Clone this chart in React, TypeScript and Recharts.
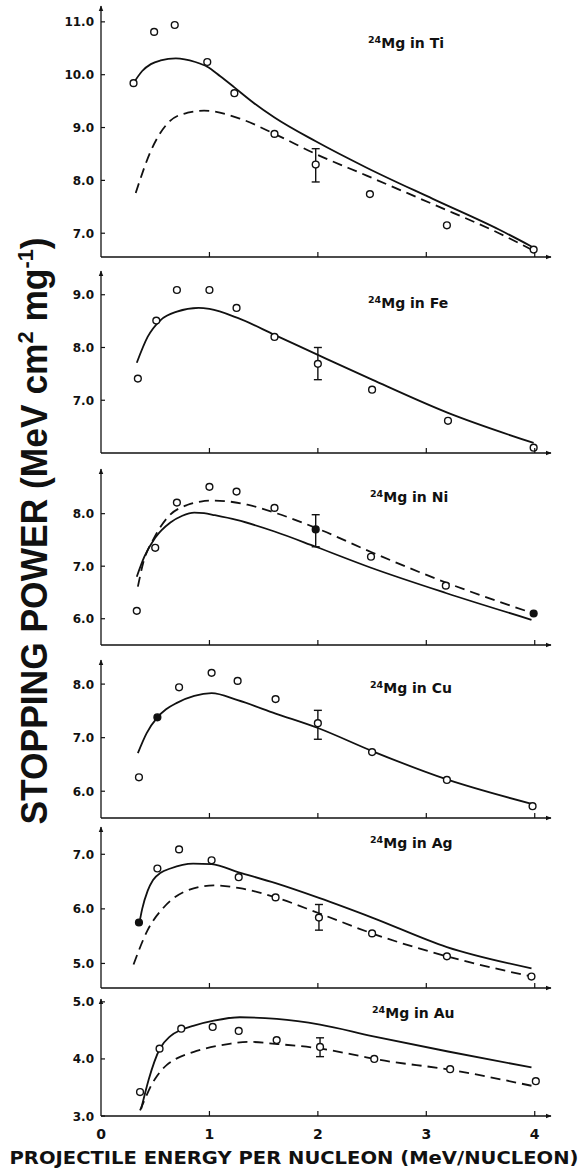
import { ComposedChart, Line, Scatter, XAxis, YAxis, ErrorBar } from 'recharts';

const X_TICKS = [0, 1, 2, 3, 4];
const TARGETS = ['Ti', 'Fe', 'Ni', 'Cu', 'Ag', 'Au'];

// 24Mg in Ti
const tiPtX = [0.3, 0.49, 0.68, 0.98, 1.23, 1.6, 1.98, 2.48, 3.19, 3.99];
const tiPtY = [9.84, 10.81, 10.94, 10.24, 9.65, 8.88, 8.3, 7.74, 7.15, 6.69];
const tiErr = [null, null, null, null, null, null, [0.33, 0.3], null, null, null];
const tiFilled: number[] = [];
const tiSolidX = [0.3, 0.38, 0.46, 0.55, 0.69, 0.87, 0.98, 1.1, 1.23, 1.4, 1.6, 1.98, 2.45, 3.06, 3.67, 3.97];
const tiSolidY = [9.84, 10.07, 10.2, 10.27, 10.31, 10.24, 10.15, 9.97, 9.76, 9.48, 9.19, 8.74, 8.24, 7.65, 7.07, 6.75];
const tiDashX = [0.32, 0.46, 0.64, 0.8, 0.95, 1.28, 1.6, 1.98, 2.45, 3.06, 3.67, 3.97];
const tiDashY = [7.76, 8.56, 9.13, 9.28, 9.32, 9.17, 8.88, 8.5, 8.09, 7.55, 7.0, 6.69];
const tiTicks = [7, 8, 9, 10, 11];

// 24Mg in Fe
const fePtX = [0.34, 0.51, 0.7, 1.0, 1.25, 1.6, 2.0, 2.5, 3.2, 3.99];
const fePtY = [7.41, 8.51, 9.09, 9.09, 8.75, 8.2, 7.69, 7.2, 6.61, 6.1];
const feErr = [null, null, null, null, null, null, [0.3, 0.31], null, null, null];
const feFilled: number[] = [];
const feSolidX = [0.33, 0.43, 0.55, 0.7, 0.9, 1.0, 1.26, 1.6, 2.0, 2.5, 3.2, 3.99];
const feSolidY = [7.71, 8.2, 8.52, 8.68, 8.75, 8.73, 8.56, 8.24, 7.86, 7.39, 6.76, 6.19];
const feTicks = [6, 7, 8, 9];

// 24Mg in Ni
const niPtX = [0.33, 0.5, 0.7, 1.0, 1.25, 1.6, 1.98, 2.49, 3.18, 3.99];
const niPtY = [6.15, 7.35, 8.21, 8.51, 8.42, 8.11, 7.7, 7.18, 6.63, 6.1];
const niErr = [null, null, null, null, null, null, [0.33, 0.28], null, null, null];
const niFilled = [6, 9];
const niSolidX = [0.33, 0.4, 0.5, 0.64, 0.75, 0.86, 0.95, 1.05, 1.25, 1.6, 1.98, 2.49, 3.18, 3.97];
const niSolidY = [6.8, 7.18, 7.54, 7.83, 7.96, 8.02, 8.01, 7.97, 7.88, 7.66, 7.37, 6.97, 6.49, 5.98];
const niDashX = [0.34, 0.39, 0.48, 0.61, 0.8, 0.92, 1.04, 1.35, 1.6, 1.98, 2.49, 3.18, 4.02];
const niDashY = [6.61, 7.07, 7.5, 7.92, 8.17, 8.23, 8.25, 8.17, 8.02, 7.73, 7.27, 6.69, 6.08];
const niTicks = [6, 7, 8];

// 24Mg in Cu
const cuPtX = [0.35, 0.52, 0.72, 1.02, 1.26, 1.61, 2.0, 2.5, 3.19, 3.98];
const cuPtY = [6.26, 7.38, 7.94, 8.21, 8.06, 7.72, 7.27, 6.73, 6.21, 5.72];
const cuErr = [null, null, null, null, null, null, [0.3, 0.24], null, null, null];
const cuFilled = [1];
const cuSolidX = [0.34, 0.42, 0.52, 0.6, 0.7, 0.86, 1.02, 1.26, 1.61, 2.0, 2.5, 3.19, 3.98];
const cuSolidY = [6.71, 7.08, 7.38, 7.53, 7.65, 7.78, 7.83, 7.7, 7.45, 7.18, 6.75, 6.22, 5.76];
const cuTicks = [6, 7, 8];

// 24Mg in Ag
const agPtX = [0.35, 0.52, 0.72, 1.02, 1.27, 1.61, 2.01, 2.5, 3.19, 3.97];
const agPtY = [5.75, 6.74, 7.09, 6.89, 6.58, 6.21, 5.84, 5.55, 5.13, 4.76];
const agErr = [null, null, null, null, null, null, [0.23, 0.24], null, null, null];
const agFilled = [0];
const agSolidX = [0.35, 0.38, 0.43, 0.48, 0.55, 0.64, 0.85, 1.02, 1.27, 1.61, 2.01, 2.5, 3.19, 3.97];
const agSolidY = [5.7, 6.0, 6.33, 6.53, 6.66, 6.74, 6.83, 6.82, 6.67, 6.47, 6.2, 5.84, 5.3, 4.91];
const agDashX = [0.3, 0.43, 0.58, 0.8, 1.04, 1.28, 1.61, 2.01, 2.5, 3.19, 3.97];
const agDashY = [4.98, 5.61, 6.03, 6.34, 6.43, 6.38, 6.21, 5.92, 5.55, 5.13, 4.76];
const agTicks = [5, 6, 7];

// 24Mg in Au
const auPtX = [0.36, 0.54, 0.74, 1.03, 1.27, 1.62, 2.02, 2.52, 3.22, 4.01];
const auPtY = [3.42, 4.18, 4.53, 4.56, 4.49, 4.33, 4.21, 4.0, 3.82, 3.61];
const auErr = [null, null, null, null, null, null, [0.17, 0.16], null, null, null];
const auFilled: number[] = [];
const auSolidX = [0.37, 0.44, 0.54, 0.64, 0.74, 0.85, 1.04, 1.28, 1.62, 2.02, 2.5, 3.2, 3.97];
const auSolidY = [3.12, 3.64, 4.17, 4.4, 4.51, 4.58, 4.67, 4.73, 4.7, 4.6, 4.4, 4.13, 3.85];
const auDashX = [0.36, 0.39, 0.47, 0.52, 0.61, 0.7, 0.85, 1.17, 1.35, 1.63, 2.03, 2.39, 2.52, 3.22, 3.97];
const auDashY = [3.1, 3.23, 3.56, 3.71, 3.9, 4.01, 4.12, 4.26, 4.3, 4.26, 4.18, 4.05, 4.0, 3.81, 3.53];
const auTicks = [3, 4, 5];

const curve = (xs: number[], ys: number[]) => xs.map((x, i) => ({ x, y: ys[i] }));

const measured = (xs: number[], ys: number[], errs: any[], filled: number[]) =>
  xs.map((x, i) => {
    const row: any = { x, y: ys[i], filled: filled.includes(i) };
    if (errs[i]) row.err = errs[i];
    return row;
  });

// pixel placement of each panel's plot area (top = y max, bottom = y min)
const PANELS = [
  { name: 'Ti', domain: [6.55, 11.3], top: 6, bottom: 257, ticks: tiTicks, pts: measured(tiPtX, tiPtY, tiErr, tiFilled), solid: curve(tiSolidX, tiSolidY), dash: curve(tiDashX, tiDashY), titleY: 48, titleX: 368 },
  { name: 'Fe', domain: [6.0, 9.45], top: 271, bottom: 453, ticks: feTicks, pts: measured(fePtX, fePtY, feErr, feFilled), solid: curve(feSolidX, feSolidY), dash: null, titleY: 308, titleX: 368 },
  { name: 'Ni', domain: [5.5, 8.85], top: 469, bottom: 645, ticks: niTicks, pts: measured(niPtX, niPtY, niErr, niFilled), solid: curve(niSolidX, niSolidY), dash: curve(niDashX, niDashY), titleY: 502, titleX: 370 },
  { name: 'Cu', domain: [5.5, 8.45], top: 660, bottom: 818, ticks: cuTicks, pts: measured(cuPtX, cuPtY, cuErr, cuFilled), solid: curve(cuSolidX, cuSolidY), dash: null, titleY: 693, titleX: 370 },
  { name: 'Ag', domain: [4.55, 7.5], top: 827, bottom: 988, ticks: agTicks, pts: measured(agPtX, agPtY, agErr, agFilled), solid: curve(agSolidX, agSolidY), dash: curve(agDashX, agDashY), titleY: 848, titleX: 370 },
  { name: 'Au', domain: [3.0, 5.05], top: 999, bottom: 1116, ticks: auTicks, pts: measured(auPtX, auPtY, auErr, auFilled), solid: curve(auSolidX, auSolidY), dash: curve(auDashX, auDashY), titleY: 1018, titleX: 372 },
];

const INK = '#111';
const MARGIN_TOP = 8;

const Ring = (props: any) => {
  const { cx, cy, payload } = props;
  if (cx == null || cy == null) return null;
  return <circle cx={cx} cy={cy} r={3.4} fill={payload && payload.filled ? INK : '#fff'} stroke={INK} strokeWidth={1.4} />;
};

const YTick = (props: any) => {
  const { x, y, payload } = props;
  return (
    <g>
      <line x1={x} x2={x + 4} y1={y} y2={y} stroke={INK} strokeWidth={1.2} />
      <text x={x - 7} y={y + 4.5} textAnchor="end" fontFamily="DejaVu Sans" fontWeight="bold" fontSize={12} fill={INK}>
        {Number(payload.value).toFixed(1)}
      </text>
    </g>
  );
};

const makeXTick = (withLabel: boolean) => (props: any) => {
  const { x, y, payload } = props;
  return (
    <g>
      {payload.value !== 0 && <line x1={x} x2={x} y1={y} y2={y - 5} stroke={INK} strokeWidth={1.2} />}
      {withLabel && (
        <text x={x} y={y + 23} textAnchor="middle" fontFamily="DejaVu Sans" fontWeight="bold" fontSize={14} fill={INK}>
          {payload.value}
        </text>
      )}
    </g>
  );
};

function Panel({ p, last }: { p: any; last: boolean }) {
  const axisH = last ? 34 : 4;
  const plotH = p.bottom - p.top;
  const arrowId = `arrow-${p.name}`;
  return (
    <div style={{ position: 'absolute', left: 0, top: p.top - MARGIN_TOP }}>
      <ComposedChart width={579} height={plotH + MARGIN_TOP + axisH} margin={{ top: MARGIN_TOP, right: 28, bottom: 0, left: 0 }}>
        <defs>
          <marker id={arrowId} viewBox="0 0 10 10" refX="9" refY="5" markerWidth="6" markerHeight="6" markerUnits="userSpaceOnUse" orient="auto-start-reverse">
            <path d="M0,1 L10,5 L0,9 z" fill={INK} />
          </marker>
        </defs>
        <XAxis
          type="number"
          dataKey="x"
          domain={[0, 4.15]}
          ticks={X_TICKS}
          allowDataOverflow
          height={axisH}
          tickSize={0}
          tickMargin={0}
          tickLine={false}
          tick={makeXTick(last)}
          axisLine={{ stroke: INK, strokeWidth: 1.3, markerEnd: `url(#${arrowId})` }}
        />
        <YAxis
          type="number"
          domain={p.domain}
          ticks={p.ticks}
          allowDataOverflow
          width={101}
          tickSize={0}
          tickMargin={0}
          tickLine={false}
          tick={<YTick />}
          axisLine={{ stroke: INK, strokeWidth: 1.3, markerStart: `url(#${arrowId})` }}
        />
        <Line data={p.solid} dataKey="y" type="monotone" stroke={INK} strokeWidth={1.8} dot={false} isAnimationActive={false} />
        {p.dash && (
          <Line data={p.dash} dataKey="y" type="monotone" stroke={INK} strokeWidth={1.8} strokeDasharray="10 6" dot={false} isAnimationActive={false} />
        )}
        <Scatter data={p.pts} dataKey="y" shape={<Ring />} isAnimationActive={false}>
          <ErrorBar dataKey="err" direction="y" width={4} stroke={INK} strokeWidth={1.4} />
        </Scatter>
      </ComposedChart>
    </div>
  );
}

export default function App() {
  return (
    <div style={{ position: 'absolute', left: 0, top: 0, width: 579, height: 1172, background: '#fff', overflow: 'hidden' }}>
      {PANELS.map((p, i) => (
        <Panel key={p.name} p={p} last={i === PANELS.length - 1} />
      ))}
      <svg width={579} height={1172} style={{ position: 'absolute', left: 0, top: 0, pointerEvents: 'none' }}>
        {PANELS.map((p, i) => (
          <text key={p.name} x={p.titleX} y={p.titleY} fontFamily="DejaVu Sans" fontWeight="bold" fontSize={14} fill={INK}>
            <tspan fontSize={9.5} dy={-5}>24</tspan>
            <tspan dy={5}>{`Mg in ${TARGETS[i]}`}</tspan>
          </text>
        ))}
        <text
          transform="translate(47,531) rotate(-90)"
          textAnchor="middle"
          fontFamily="Liberation Sans"
          fontWeight="bold"
          fontSize={36}
          fill={INK}
          textLength={587}
          lengthAdjust="spacingAndGlyphs"
        >
          STOPPING POWER (MeV cm<tspan fontSize={22} dy={-14}>2</tspan>
          <tspan dy={14}> mg</tspan>
          <tspan fontSize={22} dy={-14}>-1</tspan>
          <tspan dy={14}>)</tspan>
        </text>
        <text x={294} y={1164} textAnchor="middle" fontFamily="DejaVu Sans" fontWeight="bold" fontSize={18} fill={INK} textLength={569} lengthAdjust="spacingAndGlyphs">
          PROJECTILE ENERGY PER NUCLEON (MeV/NUCLEON)
        </text>
      </svg>
    </div>
  );
}
